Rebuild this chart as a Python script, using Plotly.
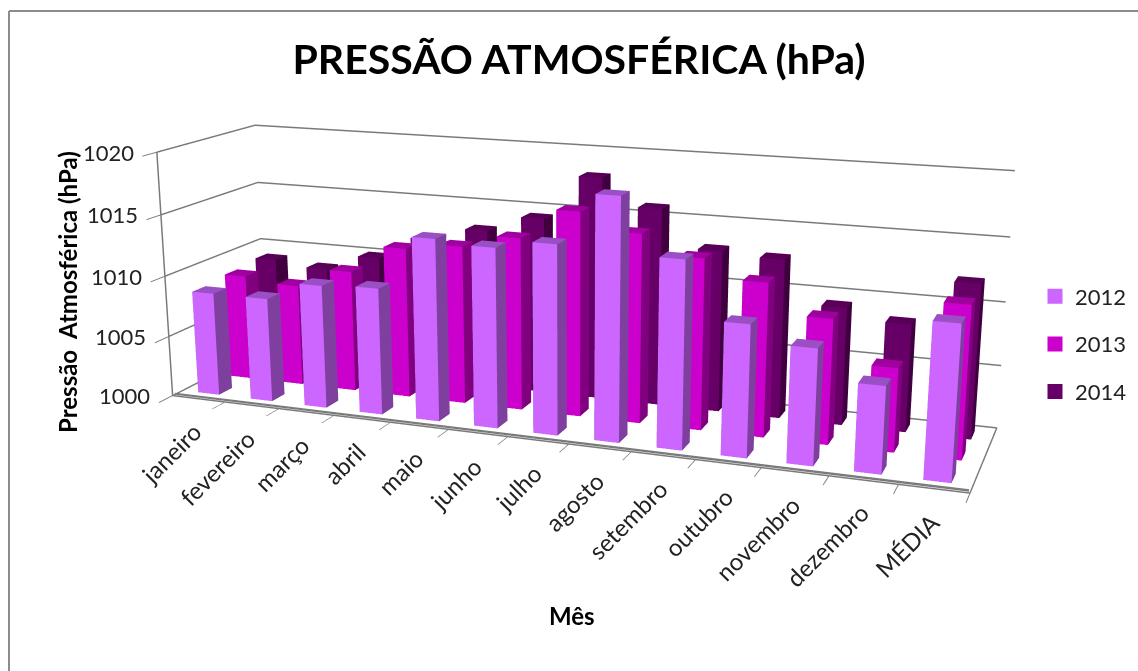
import plotly.graph_objects as go

months = ["janeiro", "fevereiro", "março", "abril", "maio", "junho", "julho",
          "agosto", "setembro", "outubro", "novembro", "dezembro", "MÉDIA"]
series_names = ["2012", "2013", "2014"]
v2012 = [1008.5, 1008.5, 1010.0, 1010.2, 1014.5, 1014.2, 1014.85, 1018.8, 1014.5, 1010.15, 1008.85, 1006.6, 1011.6]
v2013 = [1008.8, 1008.4, 1010.0, 1012.3, 1012.85, 1013.9, 1016.35, 1015.0, 1013.5, 1012.05, 1009.75, 1006.5, 1011.7]
v2014 = [1009.1, 1008.7, 1010.05, 1012.0, 1013.1, 1014.45, 1018.1, 1015.95, 1013.0, 1012.7, 1009.35, 1008.5, 1012.05]
face_colors = [("#CC66FF", "#7F3F9F", "#9A50C4"),
               ("#CC00CC", "#800080", "#A000A0"),
               ("#660066", "#400040", "#580058")]
z_ticks = [1000, 1005, 1010, 1015, 1020]
W, H = 1138, 671
FIELD_OF_VIEW = 0.3856
FLAT_LIGHT = dict(ambient=1, diffuse=0, specular=0, fresnel=0, roughness=1)


def cuboid_mesh(values, row, colors):
    # One mesh per series: each category becomes a box standing on the floor.
    xs, ys, zs, i, j, k, fc = [], [], [], [], [], [], []
    front, side, top = colors
    for c, val in enumerate(values):
        x0, x1, y0, y1 = c + .3, c + .7, row + .3, row + .7
        base = len(xs)
        for z in (z_ticks[0], val):
            xs += [x0, x1, x1, x0]
            ys += [y0, y0, y1, y1]
            zs += [z, z, z, z]
        quads = [((0, 1, 5, 4), front), ((1, 2, 6, 5), side), ((4, 5, 6, 7), top),
                 ((2, 3, 7, 6), side), ((3, 0, 4, 7), side)]
        for q, col in quads:
            i += [base + q[0], base + q[0]]
            j += [base + q[1], base + q[2]]
            k += [base + q[2], base + q[3]]
            fc += [col, col]
    return go.Mesh3d(x=xs, y=ys, z=zs, i=i, j=j, k=k, facecolor=fc, flatshading=True, hoverinfo="skip",
                     showlegend=False, showscale=False, lighting=FLAT_LIGHT)


grid = "#7A7A7A"
fig = go.Figure()
for row, vals in enumerate([v2012, v2013, v2014]):
    fig.add_trace(cuboid_mesh(vals, row, face_colors[row]))

# Front edge of the floor, drawn as a thin strip lying just inside the category axis.
n_cat = len(months)
strip_z = [z_ticks[0] + .02, z_ticks[0] + .02, z_ticks[0] + .2, z_ticks[0] + .2]
fig.add_trace(go.Mesh3d(x=[.02, n_cat - .02, n_cat - .02, .02], y=[.04] * 4, z=strip_z,
                        i=[0, 0], j=[1, 2], k=[2, 3], facecolor=[grid, grid], flatshading=True,
                        hoverinfo="skip", showlegend=False, showscale=False, lighting=FLAT_LIGHT))

for name, colors in zip(series_names, face_colors):
    fig.add_trace(go.Scatter3d(x=[None], y=[None], z=[None], mode="markers", name=name, legendgroup=name,
                               marker=dict(symbol="square", size=15, color=colors[0])))

scene_labels = []
for c, m in enumerate(months):
    scene_labels.append(dict(x=c + .6, y=0, z=z_ticks[0], text=m, textangle=-45, showarrow=False,
                             xanchor="right", yanchor="top", xshift=6, yshift=-15,
                             font=dict(family="Lato", size=24, color="#222")))
for z in z_ticks:
    scene_labels.append(dict(x=0, y=0, z=z, text=str(z), showarrow=False, xanchor="right", xshift=-21,
                             font=dict(family="Lato", size=22, color="#222")))

hidden = dict(showbackground=False, showspikes=False, zeroline=False, title="", showticklabels=False)
fig.update_layout(
    width=W, height=H, margin=dict(l=0, r=0, t=0, b=0), paper_bgcolor="white",
    title=dict(text="<b>PRESSÃO ATMOSFÉRICA (hPa)</b>", x=579 / W, xanchor="center", y=1 - 60 / H, yanchor="middle",
               font=dict(family="Lato", size=41, color="#000")),
    legend=dict(x=1035 / W, xanchor="left", y=1 - 344 / H, yanchor="middle", tracegroupgap=16, itemwidth=30,
                font=dict(family="Lato", size=22, color="#222"), bgcolor="rgba(0,0,0,0)"),
    scene=dict(
        domain=dict(x=[0, 1], y=[0, 1]), aspectmode="manual",
        aspectratio=dict(x=2.0, y=0.4687, z=0.6251),
        camera=dict(eye=dict(x=1.4013, y=-3.7977, z=1.0092), center=dict(x=0.0202, y=-0.0808, z=-0.0948),
                    up=dict(x=0, y=0, z=1)),
        xaxis=dict(range=[0, 13], tickvals=list(range(14)), ticks="outside", ticklen=5, tickcolor=grid, tickwidth=2,
                   showgrid=False, showline=True, linecolor=grid, linewidth=3, **hidden),
        yaxis=dict(range=[0, 3], tickvals=[], showgrid=False, showline=True, linecolor=grid, linewidth=3, **hidden),
        zaxis=dict(range=[z_ticks[0], z_ticks[-1]], tickvals=z_ticks, ticks="outside", ticklen=6, tickcolor=grid, tickwidth=2,
                   showgrid=True, gridcolor=grid, gridwidth=3, showline=True, linecolor=grid, linewidth=3, **hidden),
        annotations=scene_labels),
    shapes=[dict(type="line", xref="paper", yref="paper", x0=9 / W, x1=1, y0=1 - 11 / H, y1=1 - 11 / H,
                 line=dict(color="#8C8C8C", width=2)),
            dict(type="line", xref="paper", yref="paper", x0=9 / W, x1=9 / W, y0=0, y1=1 - 11 / H,
                 line=dict(color="#8C8C8C", width=2))],
    annotations=[
        dict(xref="paper", yref="paper", x=67 / W, y=1 - 292 / H, xanchor="center", yanchor="middle",
             text="<b>Pressão  Atmosférica (hPa)</b>", textangle=-90, showarrow=False,
             font=dict(family="Lato", size=24, color="#000")),
        dict(xref="paper", yref="paper", x=572 / W, y=1 - 615 / H, xanchor="center", yanchor="middle",
             text="<b>Mês</b>", showarrow=False, font=dict(family="Lato", size=24, color="#000"))],
)
# Narrow the field of view of the 3D camera so the box keeps a long-lens look.
tune = ("var g=document.getElementById('{plot_id}');var s=g._fullLayout.scene._scene;"
        "s.glplot.fovy=%.4f;s.glplot.redraw();" % FIELD_OF_VIEW)
fig.write_html("out.html", config=dict(displayModeBar=False), post_script=tune)
